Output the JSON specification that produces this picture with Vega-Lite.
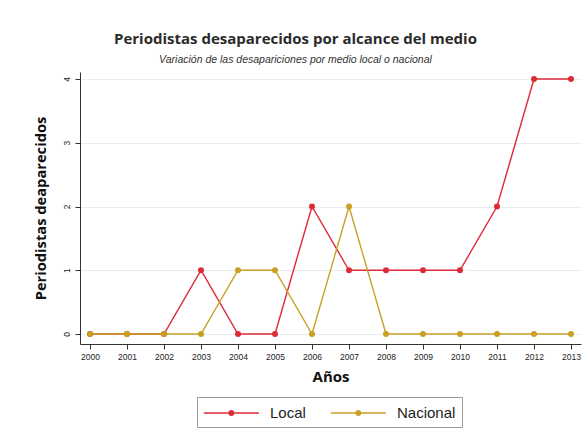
{
  "$schema": "https://vega.github.io/schema/vega-lite/v6.json",
  "width": 501,
  "height": 272,
  "autosize": {"type": "none"},
  "padding": {"left": 80, "top": 72, "right": 5, "bottom": 98},
  "background": "white",
  "config": {"view": {"stroke": null}},
  "title": {
    "text": "Periodistas desaparecidos por alcance del medio",
    "subtitle": "Variación de las desapariciones por medio local o nacional",
    "anchor": "middle",
    "frame": "group",
    "dx": -35,
    "offset": 7,
    "font": "Open Sans",
    "fontSize": 15,
    "fontWeight": "bold",
    "color": "#2b2b2b",
    "subtitleFont": "Liberation Sans",
    "subtitleFontSize": 10.5,
    "subtitleFontStyle": "italic",
    "subtitleColor": "#333333",
    "subtitlePadding": 8
  },
  "data": {
    "values": [
      {"year": "2000", "serie": "Local", "n": 0},
      {"year": "2001", "serie": "Local", "n": 0},
      {"year": "2002", "serie": "Local", "n": 0},
      {"year": "2003", "serie": "Local", "n": 1},
      {"year": "2004", "serie": "Local", "n": 0},
      {"year": "2005", "serie": "Local", "n": 0},
      {"year": "2006", "serie": "Local", "n": 2},
      {"year": "2007", "serie": "Local", "n": 1},
      {"year": "2008", "serie": "Local", "n": 1},
      {"year": "2009", "serie": "Local", "n": 1},
      {"year": "2010", "serie": "Local", "n": 1},
      {"year": "2011", "serie": "Local", "n": 2},
      {"year": "2012", "serie": "Local", "n": 4},
      {"year": "2013", "serie": "Local", "n": 4},
      {"year": "2000", "serie": "Nacional", "n": 0},
      {"year": "2001", "serie": "Nacional", "n": 0},
      {"year": "2002", "serie": "Nacional", "n": 0},
      {"year": "2003", "serie": "Nacional", "n": 0},
      {"year": "2004", "serie": "Nacional", "n": 1},
      {"year": "2005", "serie": "Nacional", "n": 1},
      {"year": "2006", "serie": "Nacional", "n": 0},
      {"year": "2007", "serie": "Nacional", "n": 2},
      {"year": "2008", "serie": "Nacional", "n": 0},
      {"year": "2009", "serie": "Nacional", "n": 0},
      {"year": "2010", "serie": "Nacional", "n": 0},
      {"year": "2011", "serie": "Nacional", "n": 0},
      {"year": "2012", "serie": "Nacional", "n": 0},
      {"year": "2013", "serie": "Nacional", "n": 0}
    ]
  },
  "encoding": {
    "x": {
      "field": "year",
      "type": "ordinal",
      "scale": {"type": "point", "padding": 0.27},
      "axis": {
        "title": "Años",
        "titleFont": "Open Sans",
        "titleFontSize": 15,
        "titleFontWeight": "bold",
        "titleColor": "#111111",
        "titlePadding": 9,
        "labelAngle": 0,
        "labelFont": "Liberation Sans",
        "labelFontSize": 8.5,
        "labelColor": "#222222",
        "labelPadding": 3,
        "tickSize": 5,
        "tickColor": "#333333",
        "domainColor": "#333333",
        "domainWidth": 1,
        "grid": false
      }
    },
    "y": {
      "field": "n",
      "type": "quantitative",
      "scale": {"domain": [-0.157, 4.11], "nice": false, "zero": false},
      "axis": {
        "values": [0, 1, 2, 3, 4],
        "title": "Periodistas deaparecidos",
        "titleFont": "Open Sans",
        "titleFontSize": 14.7,
        "titleFontWeight": "bold",
        "titleColor": "#111111",
        "titlePadding": 14,
        "labelAngle": -90,
        "labelAlign": "center",
        "labelBaseline": "bottom",
        "labelFont": "Liberation Sans",
        "labelFontSize": 8.5,
        "labelColor": "#222222",
        "labelPadding": 4,
        "tickSize": 5,
        "tickColor": "#333333",
        "domainColor": "#333333",
        "grid": true,
        "gridColor": "#e6eef0",
        "gridWidth": 1
      }
    },
    "color": {
      "field": "serie",
      "type": "nominal",
      "scale": {"domain": ["Local", "Nacional"], "range": ["#de2a38", "#c9a024"]},
      "legend": {
        "title": null,
        "orient": "none",
        "legendX": 117,
        "legendY": 325,
        "direction": "horizontal",
        "symbolType": "M-1,0H5M2.25,0A0.25,0.25 0 1,1 1.75,0A0.25,0.25 0 1,1 2.25,0Z",
        "symbolSize": 336,
        "symbolStrokeWidth": 1.3,
        "labelFont": "Liberation Sans",
        "labelFontSize": 15,
        "labelColor": "#222222",
        "labelOffset": 47,
        "columnPadding": 22,
        "padding": 6,
        "strokeColor": "#9a9a9a",
        "fillColor": "white"
      }
    },
    "order": {"field": "serie"}
  },
  "layer": [
    {"mark": {"type": "line", "strokeWidth": 1.4}},
    {"mark": {"type": "point", "filled": true, "size": 36, "opacity": 1}}
  ]
}
